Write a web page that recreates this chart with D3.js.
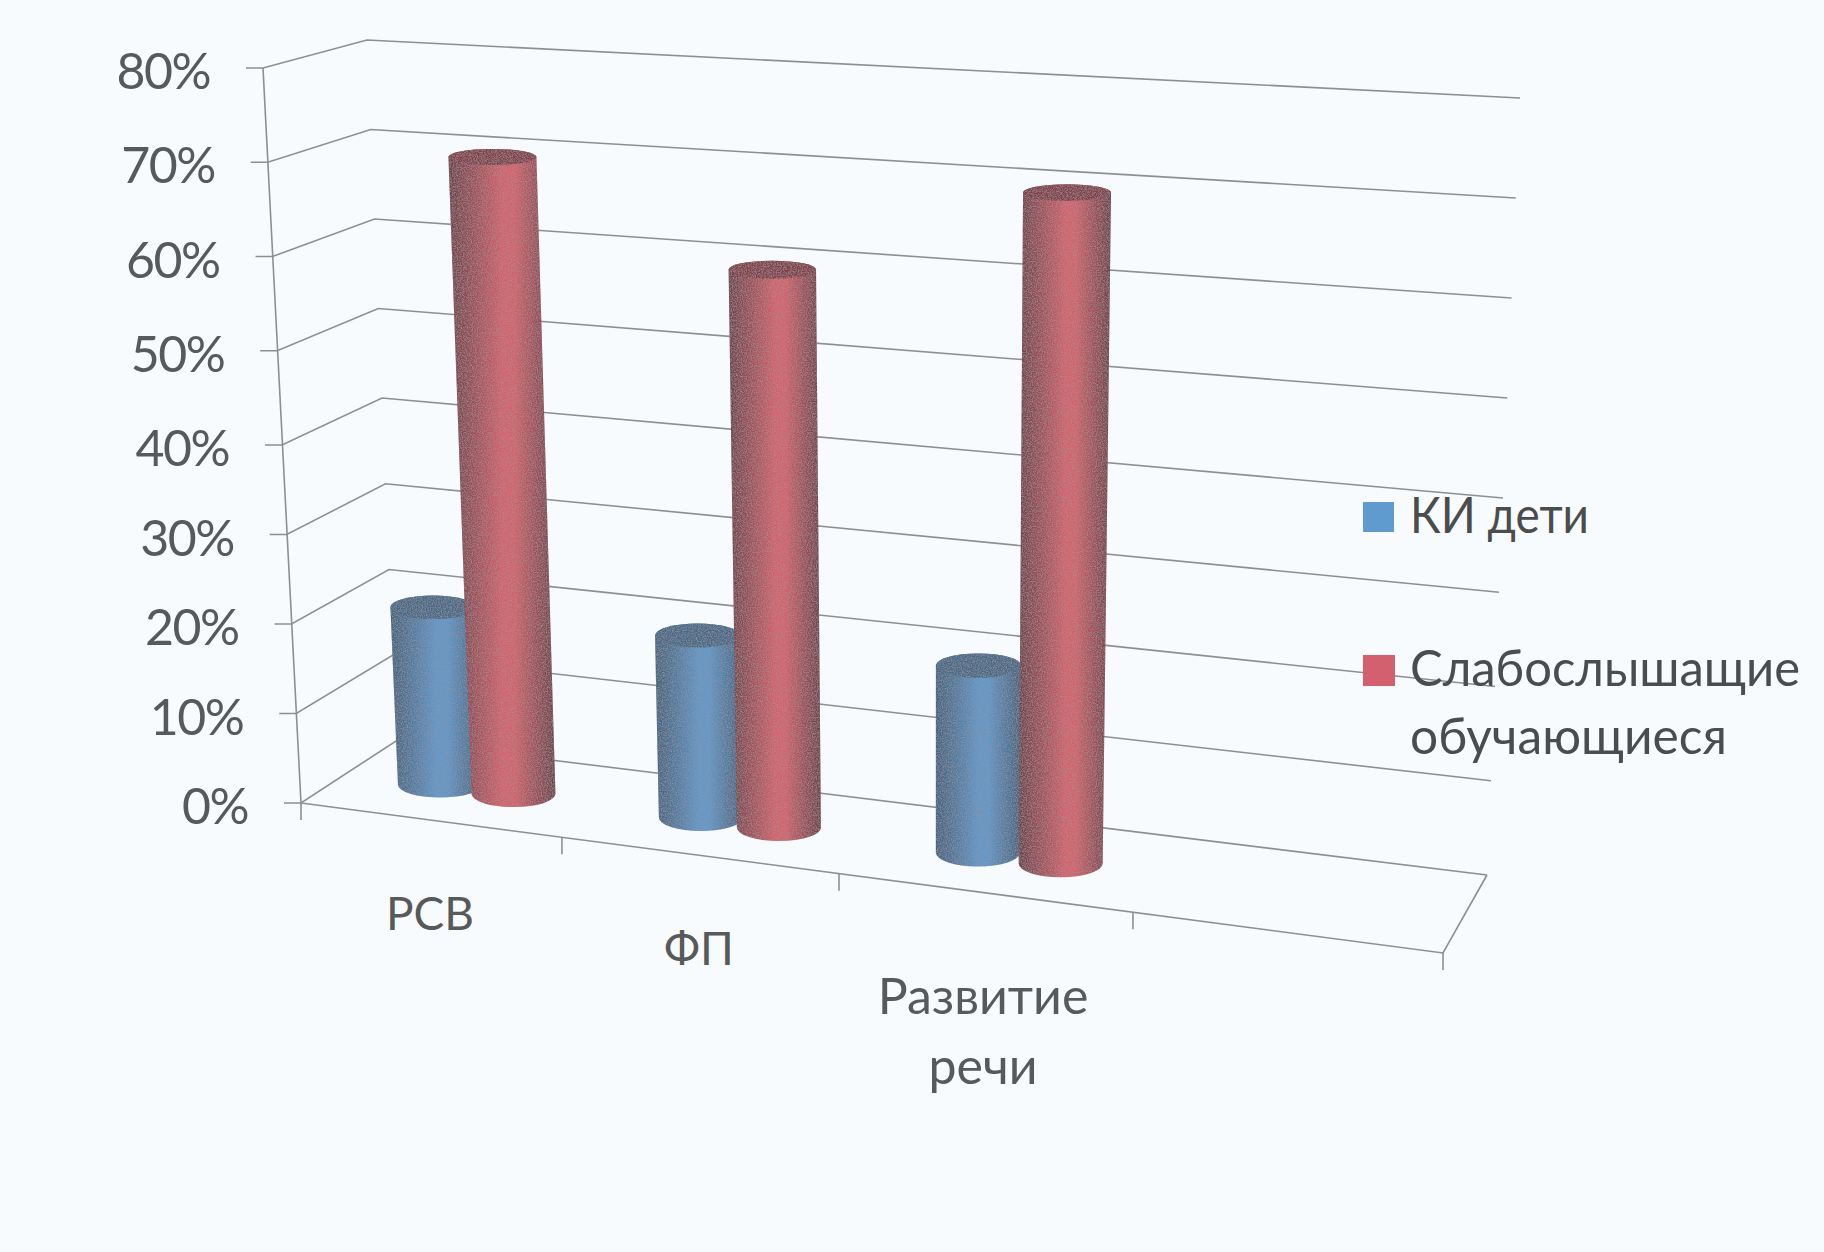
<!DOCTYPE html>
<html lang="ru">
<head>
<meta charset="utf-8">
<title>Chart</title>
<script src="https://cdn.jsdelivr.net/npm/d3@7"></script>
<style>
  html, body { margin: 0; padding: 0; background: #f7fbfd; }
  svg { display: block; }
  text { font-family: Lato, "Open Sans", sans-serif; }
</style>
</head>
<body>
<svg id="chart" width="1824" height="1252"></svg>
<script>
const categories = ['РСВ', 'ФП', 'Развитие речи'];
const seriesNames = ['КИ дети', 'Слабослышащие обучающиеся'];
const kiValues = [20, 20, 20];
const hearingValues = [70, 60, 70];
const valueTicks = [0, 10, 20, 30, 40, 50, 60, 70, 80];

const seriesColors = [
  { edge: '#41627f', mid: '#5c9ace', cap: '#446b8a', swatch: '#5f9bcf' },
  { edge: '#6f3f47', mid: '#d95f69', cap: '#853e47', swatch: '#d2606f' }
];

const svg = d3.select('#chart');

// the printed chart is a tilted box, so each vertical edge gets its own pair of scales
const stops = [0, 40, 80];
const edges = {
  frontLeft: {
    x: d3.scaleLinear().domain(stops).range([301, 282, 263]),
    y: d3.scaleLinear().domain(stops).range([803, 445, 68])
  },
  backLeft: {
    x: d3.scaleLinear().domain(stops).range([396, 382, 367]),
    y: d3.scaleLinear().domain(stops).range([741, 398, 40])
  },
  backRight: {
    x: d3.scaleLinear().domain(stops).range([1487, 1503, 1520]),
    y: d3.scaleLinear().domain(stops).range([875, 498, 98])
  },
  frontRight: {
    x: d3.scaleLinear().domain(stops).range([1443, 1457, 1471]),
    y: d3.scaleLinear().domain(stops).range([953, 545, 137])
  }
};

// category slots are not equal wide because of the perspective
const slot = d3.scaleLinear().domain([0, 1, 2, 3, 4]).range([0, 0.2285, 0.4711, 0.7285, 1]);
// where the two cylinders sit inside one category slot
const seriesOffset = d3.scalePoint().domain(d3.range(seriesNames.length)).range([0.362, 0.65]);
const depth = 0.49;
const capRy = d3.scaleLinear().domain([150, 880]).range([8, 14]);
const radius = d3.scaleLinear().domain([0, 70]).range([42, 44]);

function project(u, d, v) {
  const t = slot(u);
  const mix = (a, b, k) => a + (b - a) * k;
  const front = axis => mix(edges.frontLeft[axis](v), edges.frontRight[axis](v), t);
  const back = axis => mix(edges.backLeft[axis](v), edges.backRight[axis](v), t);
  return [mix(front('x'), back('x'), d), mix(front('y'), back('y'), d)];
}

const defs = svg.append('defs');

// scan grain over the cylinders
const grain = defs.append('filter').attr('id', 'grain')
  .attr('x', '0%').attr('y', '0%').attr('width', '100%').attr('height', '100%');
grain.append('feTurbulence').attr('type', 'fractalNoise').attr('baseFrequency', 0.8)
  .attr('numOctaves', 2).attr('seed', 4).attr('result', 'noise');
grain.append('feColorMatrix').attr('in', 'noise').attr('type', 'matrix')
  .attr('values', '0 0 0 0 0.3  0 0 0 0 0.28  0 0 0 0 0.3  2 0 0 0 -0.76').attr('result', 'dots');
grain.append('feComposite').attr('in', 'dots').attr('in2', 'SourceGraphic')
  .attr('operator', 'in').attr('result', 'clipped');
grain.append('feMerge').selectAll('feMergeNode')
  .data(['SourceGraphic', 'clipped']).enter()
  .append('feMergeNode').attr('in', d => d);

seriesColors.forEach((c, i) => {
  const g = defs.append('linearGradient').attr('id', 'cyl' + i);
  g.append('stop').attr('offset', '0%').attr('stop-color', c.edge);
  g.append('stop').attr('offset', '50%').attr('stop-color', c.mid);
  g.append('stop').attr('offset', '62%').attr('stop-color', c.mid);
  g.append('stop').attr('offset', '100%').attr('stop-color', c.edge);
});

const line = d3.line();
const frame = svg.append('g').attr('fill', 'none').attr('stroke', '#8d8f92').attr('stroke-width', 1.6);

// walls
valueTicks.forEach(v => {
  const e = edges;
  frame.append('path').attr('d', line([
    [e.frontLeft.x(v) - 17, e.frontLeft.y(v)],
    [e.frontLeft.x(v), e.frontLeft.y(v)],
    [e.backLeft.x(v), e.backLeft.y(v)],
    [e.backRight.x(v), e.backRight.y(v)]
  ]));
});

// value axis and floor
frame.append('path').attr('d', line([
  [edges.frontLeft.x(80), edges.frontLeft.y(80)],
  [edges.frontLeft.x(0), edges.frontLeft.y(0)],
  [edges.frontLeft.x(0), edges.frontLeft.y(0) + 17]
]));
frame.append('path').attr('d', line([
  [edges.frontLeft.x(0), edges.frontLeft.y(0)],
  [edges.frontRight.x(0), edges.frontRight.y(0)],
  [edges.backRight.x(0), edges.backRight.y(0)]
]));
d3.range(1, categories.length + 2).forEach(u => {
  const p = project(u, 0, 0);
  frame.append('path').attr('d', line([p, [p[0], p[1] + 17]]));
});

svg.append('g').attr('fill', '#58595b').attr('font-size', 50).attr('letter-spacing', -1.5)
  .attr('text-anchor', 'end')
  .selectAll('text')
  .data(valueTicks)
  .enter()
  .append('text')
  .attr('x', d => edges.frontLeft.x(d) - 53)
  .attr('y', d => edges.frontLeft.y(d) + 21)
  .text(d => d + '%');

// cylinders, back to front is just left to right here
function cylinderPath(b, t, rB, rT, ryB, ryT) {
  return `M${t[0] - rT},${t[1]}L${b[0] - rB},${b[1]}`
    + `A${rB},${ryB} 0 0 0 ${b[0] + rB},${b[1]}`
    + `L${t[0] + rT},${t[1]}`
    + `A${rT},${ryT} 0 0 0 ${t[0] - rT},${t[1]}Z`;
}

const cylinders = svg.append('g').attr('filter', 'url(#grain)');
categories.forEach((cat, i) => {
  [kiValues, hearingValues].forEach((values, s) => {
    const u = i + seriesOffset(s);
    const b = project(u, depth, 0);
    const t = project(u, depth, values[i]);
    const rT = radius(values[i]);
    const g = cylinders.append('g');
    g.append('path')
      .attr('d', cylinderPath(b, t, radius(0), rT, capRy(b[1]), capRy(t[1])))
      .attr('fill', `url(#cyl${s})`);
    g.append('ellipse')
      .attr('cx', t[0]).attr('cy', t[1])
      .attr('rx', rT).attr('ry', capRy(t[1]))
      .attr('fill', seriesColors[s].cap);
  });
});

// category labels sit under their slots, two lines for the long one
const catLabelX = [430, 699, 983];
const catLabelY = [930, 965, 1014];
const catFont = [46, 46, 50];
const catText = svg.append('g').attr('fill', '#58595b').attr('text-anchor', 'middle');
categories.forEach((cat, i) => {
  cat.split(' ').forEach((w, k) => {
    catText.append('text')
      .attr('x', catLabelX[i]).attr('y', catLabelY[i] + k * 70)
      .attr('font-size', catFont[i])
      .text(w);
  });
});

// legend
const legend = svg.append('g').attr('fill', '#4b4c4e').attr('font-size', 50);
legend.append('rect').attr('x', 1363).attr('y', 502).attr('width', 31).attr('height', 30).attr('fill', seriesColors[0].swatch);
legend.append('rect').attr('x', 1363).attr('y', 655).attr('width', 32).attr('height', 31).attr('fill', seriesColors[1].swatch);
legend.append('text').attr('x', 1410).attr('y', 533)
  .attr('textLength', 179).attr('lengthAdjust', 'spacingAndGlyphs').text(seriesNames[0]);
const legendWidths = [390, 317];
seriesNames[1].split(' ').forEach((w, k) => {
  legend.append('text').attr('x', 1410).attr('y', 686 + k * 68)
    .attr('textLength', legendWidths[k]).attr('lengthAdjust', 'spacingAndGlyphs').text(w);
});
</script>
</body>
</html>
